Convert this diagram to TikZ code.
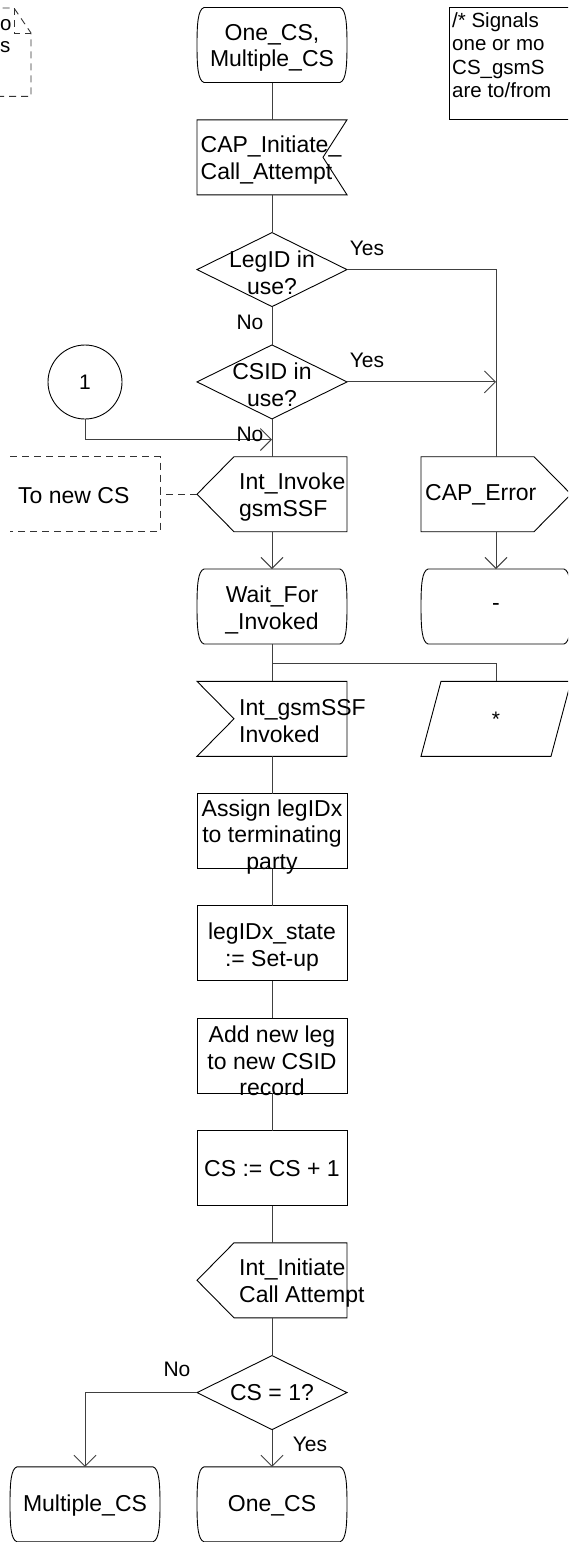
\documentclass[tikz,border=0pt]{standalone}
\usepackage{fontspec}
\setmainfont{Liberation Sans}
\usetikzlibrary{arrows.meta,calc}
\tikzset{
  ln/.style={line width=0.9pt, black},
  cn/.style={line width=0.9pt, black!75},
  arr/.style={cn, -{Straight Barb[length=11pt, width=22pt]}},
  dsh/.style={line width=0.9pt, black!80, dash pattern=on 7pt off 5pt},
  box/.style={rectangle, draw=none, minimum width=150pt, minimum height=75pt, inner sep=0pt, outer sep=0pt},
  dia/.style={box, minimum height=74pt},
  txt/.style={font=\fontsize{23}{26.5}\selectfont, inner sep=0pt, align=center},
  txtl/.style={txt, align=left, anchor=west},
  lbl/.style={font=\fontsize{21}{24}\selectfont, inner sep=0pt},
  cmt/.style={font=\fontsize{20.5}{23.5}\selectfont, inner sep=0pt, align=left},
}
\newcommand{\sdlstate}[1]{%
  \draw[ln] ($(#1.north west)+(7,0)$) -- ($(#1.north east)+(-7,0)$)
    .. controls ($(#1.north east)+(-1,2)$) and ($(#1.east)+(0,-22)$) .. (#1.east)
    .. controls ($(#1.east)+(0,22)$) and ($(#1.south east)+(-1,-2)$) .. ($(#1.south east)+(-7,0)$)
    -- ($(#1.south west)+(7,0)$)
    .. controls ($(#1.south west)+(1,-2)$) and ($(#1.west)+(0,22)$) .. (#1.west)
    .. controls ($(#1.west)+(0,-22)$) and ($(#1.north west)+(1,2)$) .. ($(#1.north west)+(7,0)$)
    -- cycle;}
\newcommand{\sdltask}[1]{\draw[ln] (#1.north west) rectangle (#1.south east);}
\newcommand{\sdldiamond}[1]{\draw[ln] (#1.north) -- (#1.east) -- (#1.south) -- (#1.west) -- cycle;}
\newcommand{\sdloutleft}[1]{\draw[ln] ($(#1.north west)+(37,0)$) -- (#1.north east) -- (#1.south east) -- ($(#1.south west)+(37,0)$) -- (#1.west) -- cycle;}
\newcommand{\sdloutright}[1]{\draw[ln] (#1.north west) -- ($(#1.north east)+(-37,0)$) -- (#1.east) -- ($(#1.south east)+(-37,0)$) -- (#1.south west) -- cycle;}
\newcommand{\sdlinleft}[1]{\draw[ln] (#1.north west) -- (#1.north east) -- (#1.south east) -- (#1.south west) -- ($(#1.west)+(37,0)$) -- cycle;}
\newcommand{\sdlinright}[1]{\draw[ln] (#1.north west) -- (#1.north east) -- ($(#1.east)+(-24,0)$) -- (#1.south east) -- (#1.south west) -- cycle;}
\begin{document}
\begin{tikzpicture}[x=1pt,y=-1pt]
\useasboundingbox (0,0) rectangle (568,1542);
\clip (0,0) rectangle (568,1542);

% ---- shape nodes ----
\node[box] (start)    at (272,45) {};
\node[box] (capin)    at (272,157.3) {};
\node[dia] (legid)    at (272,269.6) {};
\node[dia] (csid)     at (272,381.9) {};
\node[box] (invoke)   at (272,494.2) {};
\node[box] (waitfor)  at (272,606.5) {};
\node[box] (gsminv)   at (272,718.8) {};
\node[box] (assign)   at (272,831.1) {};
\node[box] (legstate) at (272,943.4) {};
\node[box] (addleg)   at (272,1055.7) {};
\node[box] (csinc)    at (272,1168) {};
\node[box] (initiate) at (272,1280.3) {};
\node[dia] (csone)    at (272,1392.6) {};
\node[box] (onecs)    at (272,1504.3) {};
\node[box] (multics)  at (85,1504.3) {};
\node[box] (caperr)   at (496,494.2) {};
\node[box] (dash)     at (496,606.5) {};
\node[box] (save)     at (496,718.8) {};
\node[box] (tonew)    at (85,494.2) {};
\node[circle, draw, ln, minimum size=74pt, inner sep=0pt, font=\fontsize{21}{24}\selectfont] (conn) at (85,382) {1};
\node[rectangle, draw=none, minimum width=170pt, minimum height=112pt, inner sep=0pt, anchor=north west] (note) at (449,7.5) {};
\node[rectangle, draw=none, minimum width=160pt, minimum height=88pt, inner sep=0pt, anchor=north east] (tlnote) at (31,8) {};

% ---- outlines ----
\sdlstate{start}
\sdlinright{capin}
\sdldiamond{legid}
\sdldiamond{csid}
\sdloutleft{invoke}
\sdlstate{waitfor}
\sdlinleft{gsminv}
\sdltask{assign}
\sdltask{legstate}
\sdltask{addleg}
\sdltask{csinc}
\sdloutleft{initiate}
\sdldiamond{csone}
\sdlstate{onecs}
\sdlstate{multics}
\sdloutright{caperr}
\sdlstate{dash}
\draw[ln] ($(save.north west)+(20,0)$) -- (save.north east) -- ($(save.south east)+(-20,0)$) -- (save.south west) -- cycle;
\draw[dsh] (tonew.north west) -- (tonew.north east) -- (tonew.south east) -- (tonew.south west);
\draw[ln] (note.north east) -- (note.north west) -- (note.south west) -- (note.south east);
\draw[dsh] (tlnote.north west) -- ($(tlnote.north east)+(-17,0)$) -- ($(tlnote.north east)+(0,25)$) -- (tlnote.south east) -- (tlnote.south west);
\draw[dsh] ($(tlnote.north east)+(-17,0)$) -- ($(tlnote.north east)+(-17,25)$) -- ($(tlnote.north east)+(0,25)$);

% ---- texts ----
\node[txt]  (t-start)  at (272,48)   {One\_CS,\\Multiple\_CS};
\node[txtl] (t-capin)  at (200.5,160) {CAP\_Initiate\_\\Call\_Attempt};
\node[txt]  (t-legid)  at (272,273)  {LegID in\\use?};
\node[txt]  (t-csid)   at (272,385)  {CSID in\\use?};
\node[txtl] (t-invoke) at (239,497)  {Int\_Invoke\\gsmSSF};
\node[txt]  (t-wait)   at (272,610)  {Wait\_For\\\_Invoked};
\node[txtl] (t-gsminv) at (239,721)  {Int\_gsmSSF\\Invoked};
\node[txt]  (t-assign) at (272,837)  {Assign legIDx\\to terminating\\party};
\node[txt]  (t-legst)  at (272,947)  {legIDx\_state\\:= Set-up};
\node[txt]  (t-addleg) at (272,1061) {Add new leg\\to new CSID\\record};
\node[txt]  (t-csinc)  at (272,1169) {CS := CS + 1};
\node[txtl] (t-init)   at (239,1283) {Int\_Initiate\\Call Attempt};
\node[txt]  (t-csone)  at (272,1393) {CS = 1?};
\node[txt]  (t-onecs)  at (272,1506) {One\_CS};
\node[txt]  (t-multi)  at (85,1506)  {Multiple\_CS};
\node[txtl] (t-caperr) at (425,495)  {CAP\_Error};
\node[txt]  (t-dash)   at (496,607)  {-};
\node[lbl]  (t-save)   at (496,719)  {*};
\node[txtl] (t-tonew)  at (18,496)   {To new CS};
\node[cmt, anchor=north west] (t-note) at (452,12) {/* Signals\\one or mo\\CS\_gsmS\\are to/from};
\node[cmt, anchor=west] (t-tl1) at (0,25) {o};
\node[cmt, anchor=west] (t-tl2) at (0,47) {s};

% ---- junction coordinates ----
\coordinate (j1) at (csid.east -| caperr.north);
\coordinate (j2) at (272,439.5);
\coordinate (j3) at (272,663);

% ---- connectors ----
\draw[cn] (start) -- (capin);
\draw[cn] (capin) -- (legid);
\draw[cn] (legid) -- (csid);
\draw[cn] (legid.east) -| (caperr.north);
\draw[arr] (csid.east) -- (j1);
\draw[cn] (csid) -- (invoke);
\draw[arr] (conn.south) |- (j2);
\draw[dsh] (invoke.west) -- (tonew.east);
\draw[arr] (invoke) -- (waitfor);
\draw[arr] (caperr) -- (dash);
\draw[cn] (waitfor) -- (gsminv);
\draw[cn] (j3) -| (save.north);
\draw[cn] (gsminv) -- (assign);
\draw[cn] (assign) -- (legstate);
\draw[cn] (legstate) -- (addleg);
\draw[cn] (addleg) -- (csinc);
\draw[cn] (csinc) -- (initiate);
\draw[cn] (initiate) -- (csone);
\draw[arr] (csone.west) -| (multics.north);
\draw[arr] (csone) -- (onecs);

% ---- labels ----
\node[lbl] (l-yes1) at (367,248)  {Yes};
\node[lbl] (l-no1)  at (250,322)  {No};
\node[lbl] (l-yes2) at (367,360)  {Yes};
\node[lbl] (l-no2)  at (250,434)  {No};
\node[lbl] (l-no3)  at (177,1369) {No};
\node[lbl] (l-yes3) at (310,1444) {Yes};
\end{tikzpicture}
\end{document}
